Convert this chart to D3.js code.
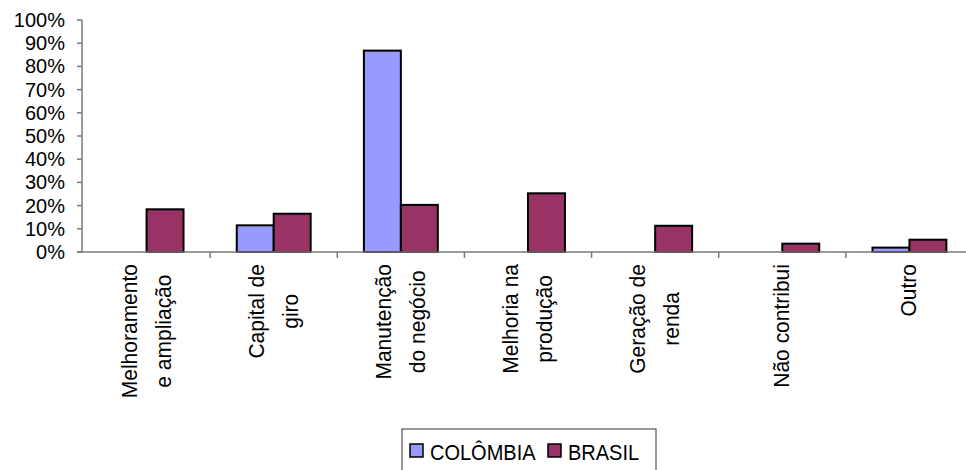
<!DOCTYPE html>
<html>
<head>
<meta charset="utf-8">
<script src="https://cdn.jsdelivr.net/npm/d3@7"></script>
<style>
  body { margin: 0; background: #fff; }
  text { font-family: "Liberation Sans", Arial, sans-serif; font-size: 21px; fill: #000; }
  text.legend-label { font-size: 20px; }
  text.ylabel { font-size: 20px; }
</style>
</head>
<body>
<div id="chart"></div>
<script>
const svgWidth = 966;
const svgHeight = 470;

const categories = [
    ["Melhoramento", "e ampliação"],
    ["Capital de", "giro"],
    ["Manutenção", "do negócio"],
    ["Melhoria na", "produção"],
    ["Geração de", "renda"],
    ["Não contribui"],
    ["Outro"]
];
const seriesNames = ["COLÔMBIA", "BRASIL"];
const colombia = [0, 11.5, 86.8, 0, 0, 0, 1.9];
const brasil = [18.4, 16.5, 20.3, 25.3, 11.3, 3.6, 5.3];
const yTicks = [0, 10, 20, 30, 40, 50, 60, 70, 80, 90, 100];
const colors = ["#9999ff", "#993366"];

const stretch = 1.08;

const svg = d3.select('#chart')
    .append('svg')
    .attr('width', svgWidth)
    .attr('height', svgHeight);

const keys = categories.map(d => d.join(' '));
const rows = keys.map((k, i) => ({ key: k, values: [colombia[i], brasil[i]] }));

const x0 = d3.scaleBand().domain(keys).range([83, 973]).padding(0);
const x1 = d3.scaleBand().domain([0, 1]).range([0, x0.bandwidth()])
    .paddingInner(0).paddingOuter(0.72);
const y = d3.scaleLinear().domain([0, 100]).range([252, 20]);

// y axis
svg.append('line')
    .attr('x1', 82).attr('x2', 82)
    .attr('y1', y(100)).attr('y2', y(0))
    .attr('stroke', '#7a7a7a').attr('stroke-width', 1.5);

svg.selectAll('.ytick')
    .data(yTicks)
    .join('line')
    .attr('x1', 77).attr('x2', 82)
    .attr('y1', d => y(d)).attr('y2', d => y(d))
    .attr('stroke', '#7a7a7a').attr('stroke-width', 1.5);

svg.selectAll('.ylabel')
    .data(yTicks)
    .join('text')
    .attr('class', 'ylabel')
    .attr('x', 65)
    .attr('y', d => y(d))
    .attr('text-anchor', 'end')
    .attr('dominant-baseline', 'central')
    .text(d => d + '%');

// bars
const groups = svg.selectAll('.group')
    .data(rows)
    .join('g')
    .attr('transform', d => `translate(${x0(d.key)},0)`);

groups.selectAll('rect')
    .data(d => d.values.map((v, i) => ({ i, v })).filter(e => e.v > 0))
    .join('rect')
    .attr('x', d => x1(d.i))
    .attr('y', d => y(d.v))
    .attr('width', x1.bandwidth())
    .attr('height', d => y(0) - y(d.v))
    .attr('fill', d => colors[d.i])
    .attr('stroke', '#000')
    .attr('stroke-width', 2);

// x axis
svg.append('line')
    .attr('x1', 77).attr('x2', svgWidth)
    .attr('y1', y(0)).attr('y2', y(0))
    .attr('stroke', '#7a7a7a').attr('stroke-width', 1.5);

svg.selectAll('.xtick')
    .data(keys.slice(1))
    .join('line')
    .attr('x1', d => x0(d)).attr('x2', d => x0(d))
    .attr('y1', y(0)).attr('y2', y(0) + 6)
    .attr('stroke', '#7a7a7a').attr('stroke-width', 1.5);

// category labels, rotated, block top at y=264
const lineGap = 34;
categories.forEach((lines, ci) => {
    const cx = x0(keys[ci]) + x0.bandwidth() / 2;
    const n = lines.length;
    const nodes = lines.map((t, li) => {
        const off = (li - (n - 1) / 2) * lineGap + 7;
        return svg.append('text')
            .attr('text-anchor', 'middle')
            .text(t)
            .datum(off);
    });
    const maxLen = d3.max(nodes, s => s.node().getComputedTextLength());
    nodes.forEach(s => {
        const off = s.datum();
        s.attr('transform', `translate(${cx + off},264) rotate(-90) translate(${-maxLen / 2},0) scale(1,${stretch})`);
    });
});

// legend
const legend = svg.append('g');
legend.append('rect')
    .attr('x', 402).attr('y', 429)
    .attr('width', 254).attr('height', 50)
    .attr('fill', '#fff')
    .attr('stroke', '#555').attr('stroke-width', 1.2);

const legendX = [410, 548];
seriesNames.forEach((name, i) => {
    legend.append('rect')
        .attr('x', legendX[i]).attr('y', 444)
        .attr('width', 13).attr('height', 13)
        .attr('fill', colors[i])
        .attr('stroke', '#000').attr('stroke-width', 1.5);
    legend.append('text')
        .attr('class', 'legend-label')
        .attr('transform', `translate(${legendX[i] + 20},460) scale(1,${stretch + 0.06})`)
        .text(name);
});
</script>
</body>
</html>
